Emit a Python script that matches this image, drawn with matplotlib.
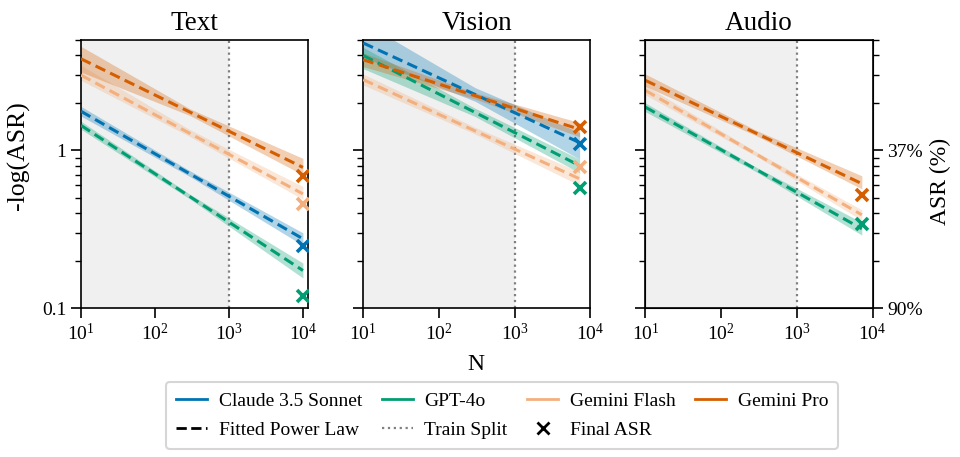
import matplotlib
matplotlib.use("Agg")
import matplotlib.pyplot as plt
from matplotlib.lines import Line2D
from matplotlib.ticker import NullFormatter

plt.rcParams['font.family'] = ['Liberation Serif', 'DejaVu Serif']
plt.rcParams['mathtext.fontset'] = 'stix'

# models and colours
models = ['Claude 3.5 Sonnet', 'GPT-4o', 'Gemini Flash', 'Gemini Pro']
colors = ['#0173b2', '#029e73', '#f3b07e', '#d55e00']
panels = ['Text', 'Vision', 'Audio']

# last N of each panel
n_end = [10000, 7200, 7200]
# N points where the uncertainty band is given
band_n_text = [10, 300, 10000]
band_n_vision = [10, 300, 7200]
band_n_audio = [10, 300, 7200]

# fitted power law: value at N=10 and at the last N  (None = model not run)
text_fit = [(1.77, 0.275), (1.44, 0.173), (3.0, 0.53), (3.81, 0.78)]
vision_fit = [(4.8, 1.12), (4.0, 0.80), (2.81, 0.66), (3.76, 1.36)]
audio_fit = [None, (1.88, 0.318), (2.40, 0.39), (2.78, 0.615)]

# band lower / upper at the band N points
text_lo = [[1.65, 0.68, 0.25], [1.36, 0.49, 0.155], [2.78, 1.22, 0.49], [3.14, 1.66, 0.70]]
text_hi = [[1.90, 0.74, 0.30], [1.53, 0.525, 0.193], [3.46, 1.35, 0.59], [4.57, 1.83, 0.89]]
vision_lo = [[3.9, 2.05, 0.88], [3.3, 1.64, 0.72], [2.6, 1.27, 0.60], [3.4, 2.12, 1.22]]
vision_hi = [[6.5, 2.50, 1.30], [4.5, 1.85, 0.88], [3.05, 1.40, 0.73], [4.15, 2.32, 1.50]]
audio_lo = [None, [1.76, 0.725, 0.29], [2.25, 0.91, 0.36], [2.55, 1.23, 0.57]]
audio_hi = [None, [2.00, 0.775, 0.35], [2.58, 0.97, 0.42], [3.05, 1.33, 0.69]]

# final ASR, shown as -log(ASR)
text_final = [0.246, 0.119, 0.455, 0.69]
vision_final = [1.10, 0.58, 0.78, 1.41]
audio_final = [None, 0.343, None, 0.523]

fits = [text_fit, vision_fit, audio_fit]
los = [text_lo, vision_lo, audio_lo]
his = [text_hi, vision_hi, audio_hi]
finals = [text_final, vision_final, audio_final]
band_ns = [band_n_text, band_n_vision, band_n_audio]
xmax = [1.18e4, 9.6e3, 1.0e4]

fig, axes = plt.subplots(1, 3, figsize=(9.6, 4.57), dpi=100, sharey=True)
fig.subplots_adjust(left=0.0844, right=0.909, top=0.912, bottom=0.326, wspace=0.242)

for p, ax in enumerate(axes):
    ax.set_xscale('log')
    ax.set_yscale('log')
    ax.axvspan(10, 1000, color='#f0f0f0', zorder=0, lw=0)
    ax.axvline(1000, color='#808080', ls=':', lw=1.6, zorder=1)
    for m in range(4):
        if fits[p][m] is None:
            continue
        c = colors[m]
        ax.fill_between(band_ns[p], los[p][m], his[p][m], color=c, alpha=0.3, lw=0, zorder=2)
        ax.plot([10, n_end[p]], list(fits[p][m]), color=c, ls=(0, (3.5, 1.8)), lw=2.2, zorder=3)
        if finals[p][m] is not None:
            ax.plot([n_end[p]], [finals[p][m]], marker='x', color=c, ms=9, mew=2.6,
                    ls='none', zorder=4)
    ax.set_xlim(10, xmax[p])
    ax.set_ylim(0.1, 5)
    ax.set_xticks([10, 100, 1000, 10000])
    ax.set_title(panels[p], fontsize=19.5, pad=7)
    ax.tick_params(which='major', length=7, width=1.2, labelsize=14)
    ax.tick_params(which='minor', length=4, width=1.0)
    ax.yaxis.set_minor_formatter(NullFormatter())
    for s in ax.spines.values():
        s.set_linewidth(1.2)

axes[0].set_yticks([0.1, 1])
axes[0].set_yticklabels(['0.1', '1'])
axes[0].yaxis.set_minor_formatter(NullFormatter())

# right hand ASR axis
axr = axes[2].twinx()
axr.set_yscale('log')
axr.set_ylim(0.1, 5)
axr.set_yticks([0.1, 1])
axr.set_yticklabels(['90%', '37%'])
axr.yaxis.set_minor_formatter(NullFormatter())
axr.tick_params(which='major', length=7, width=1.2, labelsize=14)
axr.tick_params(which='minor', length=4, width=1.0)

fig.text(18 / 960, 1 - 156 / 457, '-log(ASR)', rotation=90, ha='center', va='center', fontsize=18.5)
fig.text(940 / 960, 1 - 181 / 457, 'ASR (%)', rotation=90, ha='center', va='center', fontsize=17)
fig.text(476 / 960, 1 - 365 / 457, 'N', ha='center', va='center', fontsize=17)

handles = [
    Line2D([], [], color=colors[0], lw=2),
    Line2D([], [], color='black', ls='--', lw=2),
    Line2D([], [], color=colors[1], lw=2),
    Line2D([], [], color='#808080', ls=':', lw=1.6),
    Line2D([], [], color=colors[2], lw=2),
    Line2D([], [], color='black', marker='x', ls='none', ms=9, mew=2),
    Line2D([], [], color=colors[3], lw=2),
]
labels = [models[0], 'Fitted Power Law', models[1], 'Train Split', models[2], 'Final ASR', models[3]]
leg = fig.legend(handles, labels, ncol=4, loc='lower center', bbox_to_anchor=(0.523, -0.003),
                 fontsize=14, frameon=True, edgecolor='#cccccc', fancybox=True,
                 handlelength=1.6, handletextpad=0.6, columnspacing=1.0, labelspacing=0.6,
                 borderpad=0.5)
leg.get_frame().set_linewidth(1.5)

fig.savefig('out.png', dpi=100)
